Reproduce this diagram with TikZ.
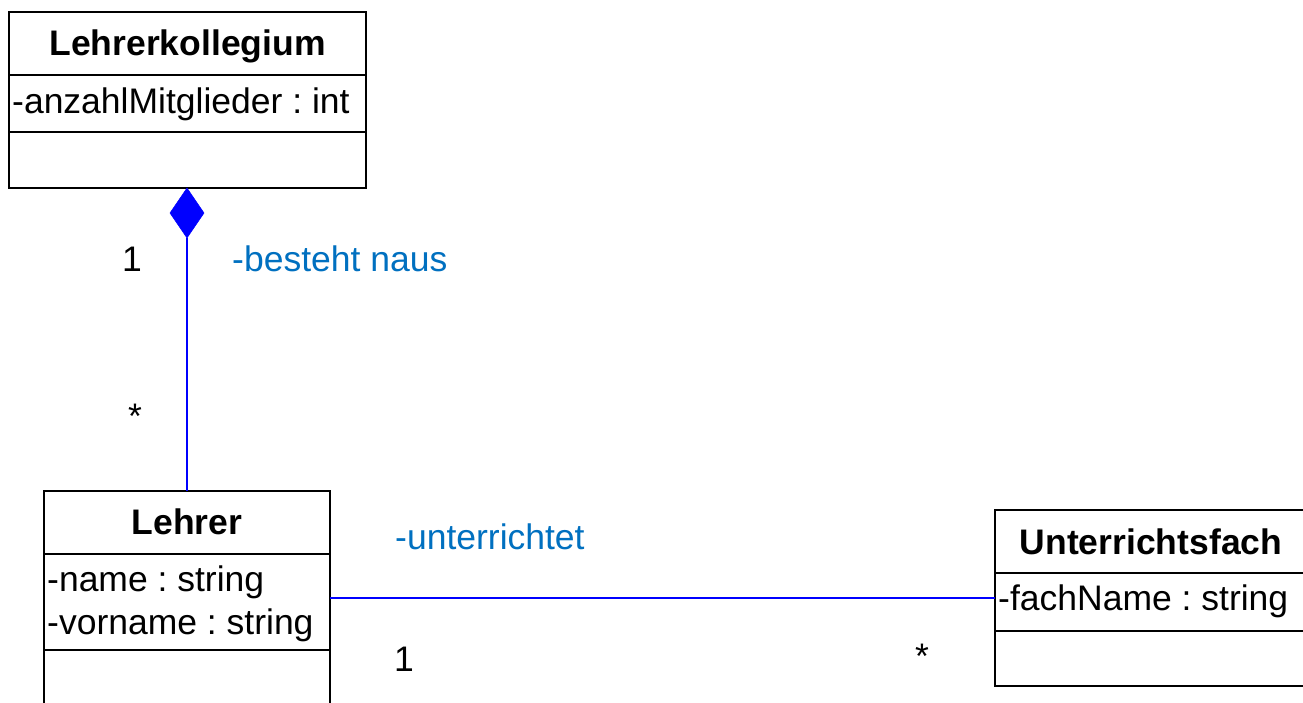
\documentclass[tikz,border=0pt]{standalone}
\usepackage{fontspec}
\setmainfont{Liberation Sans}
\usetikzlibrary{shapes.geometric}
\definecolor{assoc}{RGB}{0,0,255}
\definecolor{rolecol}{RGB}{0,112,192}
\frenchspacing
\begin{document}
\begin{tikzpicture}[x=1pt,y=-1pt,
  classbox/.style={draw=black,line width=2.8pt,inner sep=0pt,outer sep=0pt,anchor=north west},
  divider/.style={draw=black,line width=2.8pt},
  txt/.style={font=\fontsize{35.5}{42}\selectfont,inner sep=0pt},
  classname/.style={txt,font=\fontsize{35.5}{42}\selectfont\bfseries,anchor=base},
  attr/.style={txt,anchor=base west},
  mult/.style={txt,anchor=base},
  role/.style={txt,text=rolecol,anchor=base west},
  assocline/.style={draw=assoc,line width=1.8pt},
  composite/.style={diamond,draw=assoc,fill=assoc,line width=0.5pt,inner sep=0pt,outer sep=0pt,
    minimum width=34pt,minimum height=50pt}]
\useasboundingbox (0,0) rectangle (1303,702);
\clip (0,0) rectangle (1303,702);
\fill[white] (0,0) rectangle (1303,702);

% class Lehrerkollegium
\node[classbox,minimum width=357pt,minimum height=176pt] (K) at (9,12) {};
\draw[divider] (9,75) -- (366,75);
\draw[divider] (9,132) -- (366,132);
\node[classname] (Kname) at (187.5,55) {Lehrerkollegium};
\node[attr] (Kattr) at (12,113) {-anzahlMitglieder : int};

% class Lehrer (continues below the lower edge)
\node[classbox,minimum width=286pt,minimum height=214pt] (L) at (44,491) {};
\draw[divider] (44,554) -- (330,554);
\draw[divider] (44,650) -- (330,650);
\node[classname] (Lname) at (187,534) {Lehrer};
\node[attr] (Lattr1) at (47,591) {-name : string};
\node[attr] (Lattr2) at (47,634) {-vorname : string};

% class Unterrichtsfach (continues past the right edge)
\node[classbox,minimum width=312pt,minimum height=176pt] (U) at (995,510) {};
\draw[divider] (995,573) -- (1307,573);
\draw[divider] (995,631) -- (1307,631);
\node[classname] (Uname) at (1151,554) {Unterrichtsfach};
\node[attr] (Uattr) at (998,610) {-fachName : string};

% composition Lehrerkollegium <>-- Lehrer
\node[composite] (dia) at (187,213) {};
\draw[assocline] (dia.south) -- (L.north);
\node[mult] (m1) at (132,271) {1};
\node[mult] (m2) at (135,428) {*};
\node[role] (r1) at (232,271) {-besteht naus};

% association Lehrer -- Unterrichtsfach
\draw[assocline] (L.east) -- (U.west);
\node[role] (r2) at (395,549) {-unterrichtet};
\node[mult] (m3) at (404,671) {1};
\node[mult] (m4) at (922,668) {*};
\end{tikzpicture}
\end{document}
